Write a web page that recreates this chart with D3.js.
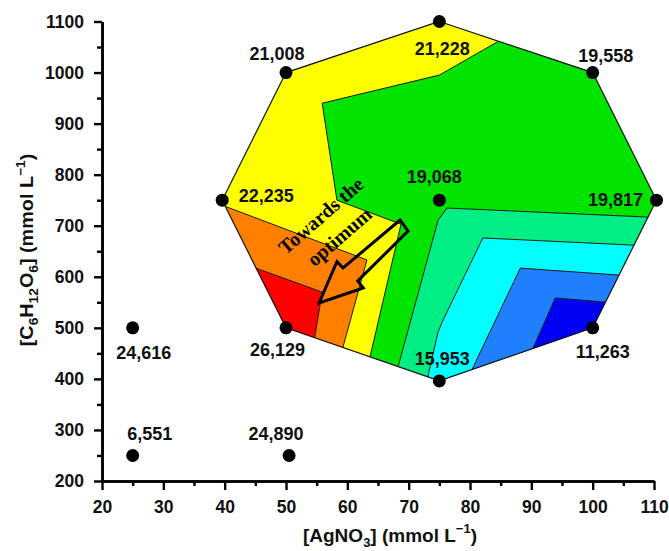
<!DOCTYPE html>
<html>
<head>
<meta charset="utf-8">
<script src="https://cdn.jsdelivr.net/npm/d3@7"></script>
<style>
  body { margin: 0; background: #fff; }
  text { font-family: "Liberation Sans", Arial, sans-serif; font-weight: bold; }
</style>
</head>
<body>
<div id="chart"></div>
<script>
// design points (AgNO3, C6H12O6) and response labels
const agno3 = [75, 50, 100, 39.6, 75, 110.4, 50, 75, 100, 25, 25, 50.5];
const glucose = [1100, 1000, 1000, 750, 750, 750, 500, 396, 500, 500, 250, 250];
const pointLabels = ["21,228", "21,008", "19,558", "22,235", "19,068", "19,817",
  "26,129", "15,953", "11,263", "24,616", "6,551", "24,890"];

// outline of the experimental domain
const domainOutline = [[75, 1100], [100, 1000], [110.4, 750], [100, 500],
  [75, 396], [50, 500], [39.6, 750], [50, 1000]];

// contour bands (drawn over yellow, clipped to the outline)
const bandGreen = [[84.6, 1061], [75, 995], [55.9, 940], [58.3, 750], [68.75, 703],
  [63.7, 443], [62.5, 380], [130, 380], [130, 1150], [97.5, 1150]];
const bandOrange = [[35, 761], [63.2, 633], [59.3, 462.5], [58.5, 420], [20, 420], [20, 761]];
const bandRed = [[40, 639], [55.9, 570], [54.7, 482], [54.3, 450], [30, 450], [30, 639]];
const bandSpring = [[76.25, 734.7], [115, 713.7], [115, 340], [66.4, 340], [68.3, 425], [74.8, 711]];
const bandCyan = [[82.1, 676], [115, 657.2], [115, 340], [72.5, 340], [73.2, 408], [74.8, 492], [75.6, 515]];
const bandAzure = [[88.2, 617], [115, 594.2], [115, 340], [77.2, 340], [80.3, 417.5]];
const bandBlue = [[93.9, 558.5], [115, 537.5], [115, 340], [85.9, 340], [90.3, 460.6]];

const arrowShape = [[55.4, 548.7], [58.3, 629.6], [59.3, 617.2], [68.6, 711.2],
  [69.9, 689.7], [61.7, 591.8], [62.6, 578.1]];

const xTicks = [20, 30, 40, 50, 60, 70, 80, 90, 100, 110];
const yTicks = [200, 300, 400, 500, 600, 700, 800, 900, 1000, 1100];

// label offsets from the dot (px)
const labelOffsets = [[3, 33.5], [-9, -13], [13, -11], [44, 1.5], [-5, -17.5], [-41, 6],
  [-8.5, 28], [3, -16], [10, 30], [11, 31], [17, -15.5], [-13, -15.5]];

let width = 669, height = 551;
let mLeft = 102, mTop = 21.5, mRight = 654, mBottom = 481;

let x = d3.scaleLinear().domain([20, 110]).range([mLeft, mRight]);
let y = d3.scaleLinear().domain([200, 1100]).range([mBottom, mTop]);

let svg = d3.select("#chart").append("svg")
  .attr("width", width)
  .attr("height", height);

let line = d3.line()
  .x(function (d) { return x(d[0]); })
  .y(function (d) { return y(d[1]); });

svg.append("clipPath").attr("id", "dom")
  .append("path").attr("d", line(domainOutline) + "Z");

let bands = svg.append("g").attr("clip-path", "url(#dom)");
bands.append("path")
  .attr("d", line(domainOutline) + "Z")
  .attr("fill", "#ffff00");

let bandList = [
  [bandGreen, "#00e400"], [bandOrange, "#ff8000"], [bandRed, "#ff0000"],
  [bandSpring, "#00ee84"], [bandCyan, "#00ffff"], [bandAzure, "#1e80ff"], [bandBlue, "#0000f2"]
];
bandList.forEach(function (b) {
  bands.append("path")
    .attr("d", line(b[0]) + "Z")
    .attr("fill", b[1])
    .attr("stroke", "#1a1a1a")
    .attr("stroke-width", 1);
});

svg.append("path")
  .attr("d", line(domainOutline) + "Z")
  .attr("fill", "none")
  .attr("stroke", "#111")
  .attr("stroke-width", 1.2);

// arrow
svg.append("path")
  .attr("d", line(arrowShape) + "Z")
  .attr("fill", "none")
  .attr("stroke", "#000")
  .attr("stroke-width", 3)
  .attr("stroke-linejoin", "miter");

let note = svg.append("g")
  .attr("transform", "translate(" + x(57.4) + "," + y(696.5) + ") rotate(-41)");
note.append("text")
  .attr("text-anchor", "middle")
  .attr("y", -9)
  .style("font-family", "'Liberation Serif', 'Times New Roman', serif")
  .style("font-size", "20px")
  .text("Towards the");
note.append("text")
  .attr("text-anchor", "middle")
  .attr("y", 19)
  .style("font-family", "'Liberation Serif', 'Times New Roman', serif")
  .style("font-size", "20px")
  .text("optimum");

// axes
svg.append("g")
  .attr("transform", "translate(0," + mBottom + ")")
  .call(d3.axisBottom(x).tickValues(xTicks).tickSize(9).tickPadding(11).tickSizeOuter(0));
svg.append("g")
  .attr("transform", "translate(0," + mBottom + ")")
  .call(d3.axisBottom(x).tickValues(d3.range(25, 110, 10)).tickSize(5).tickFormat("").tickSizeOuter(0));

svg.append("g")
  .attr("transform", "translate(" + mLeft + ",0)")
  .call(d3.axisLeft(y).tickValues(yTicks).tickSize(8).tickPadding(10)
    .tickFormat(d3.format("d")).tickSizeOuter(0));
svg.append("g")
  .attr("transform", "translate(" + mLeft + ",0)")
  .call(d3.axisLeft(y).tickValues(d3.range(250, 1100, 100)).tickSize(5).tickFormat("").tickSizeOuter(0));

svg.selectAll(".domain").attr("stroke", "#000").attr("stroke-width", 2.6);
svg.selectAll(".tick line").attr("stroke", "#000").attr("stroke-width", 2.4);
svg.selectAll(".tick text")
  .attr("fill", "#111")
  .style("font-size", "17.5px")
  .style("font-family", "'Liberation Sans', Arial, sans-serif")
  .style("font-weight", "bold");

// axis titles
let xt = svg.append("text")
  .attr("x", 390).attr("y", 542)
  .attr("text-anchor", "middle")
  .style("font-size", "19px")
  .attr("fill", "#111");
xt.append("tspan").text("[AgNO");
xt.append("tspan").attr("dy", 5).style("font-size", "13px").text("3");
xt.append("tspan").attr("dy", -5).text("] (mmol L");
xt.append("tspan").attr("dy", -9).style("font-size", "13px").text("\u22121");
xt.append("tspan").attr("dy", 9).text(")");

let yt = svg.append("text")
  .attr("transform", "translate(33,250) rotate(-90) scale(1.1,1)")
  .attr("text-anchor", "middle")
  .style("font-size", "18px")
  .attr("fill", "#111");
yt.append("tspan").text("[C");
yt.append("tspan").attr("dy", 5).style("font-size", "12.5px").text("6");
yt.append("tspan").attr("dy", -5).text("H");
yt.append("tspan").attr("dy", 5).style("font-size", "12.5px").text("12");
yt.append("tspan").attr("dy", -5).text("O");
yt.append("tspan").attr("dy", 5).style("font-size", "12.5px").text("6");
yt.append("tspan").attr("dy", -5).text("] (mmol L");
yt.append("tspan").attr("dy", -8).style("font-size", "12.5px").text("\u22121");
yt.append("tspan").attr("dy", 8).text(")");

// design points
let pts = svg.append("g");
agno3.forEach(function (a, i) {
  pts.append("circle")
    .attr("cx", x(a))
    .attr("cy", y(glucose[i]))
    .attr("r", 6.5)
    .attr("fill", "#000");
  pts.append("text")
    .attr("x", x(a) + labelOffsets[i][0])
    .attr("y", y(glucose[i]) + labelOffsets[i][1])
    .attr("text-anchor", "middle")
    .style("font-size", "18px")
    .attr("fill", "#111")
    .text(pointLabels[i]);
});
</script>
</body>
</html>
